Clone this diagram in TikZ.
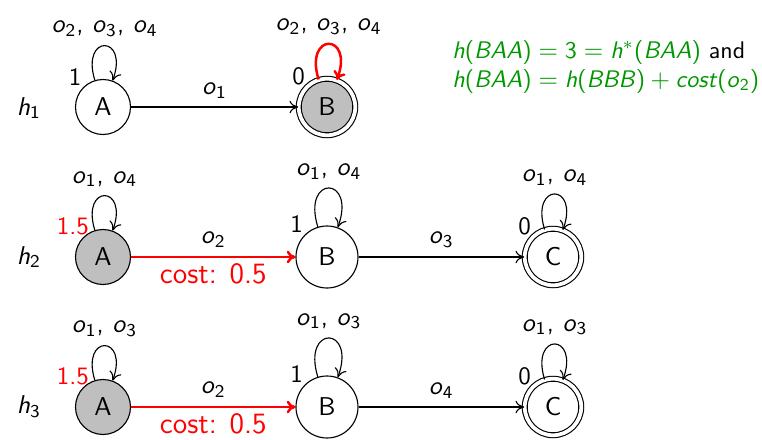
\documentclass[tikz,border=0pt]{standalone}
\usetikzlibrary{arrows.meta}
\definecolor{eqgreen}{RGB}{0,150,0}
\newcommand\mi[1]{\textit{#1}}
\newcommand\op[1]{\textit{o}\textsubscript{#1}}
\begin{document}
\begin{tikzpicture}[x=0.4pt,y=-0.4pt,font=\sffamily\fontsize{10.3}{12.4}\selectfont,
  state/.style={circle,draw,line width=0.45pt,inner sep=0pt},
  small/.style={state,minimum size=22pt},
  big/.style={state,minimum size=24.8pt},
  shaded/.style={fill=black!25},
  accept/.style={double,double distance=1.5pt,minimum size=22.6pt},
  tr/.style={-{To[length=3.5pt,width=5pt]},line width=0.45pt},
  hot/.style={red,line width=1pt},
  selfloop/.style={tr,out=107,in=70,looseness=7},
  wt/.style={inner sep=0.5pt,font=\sffamily\fontsize{10}{12}\selectfont},
  redwt/.style={wt,red,xshift=3pt},
  costlab/.style={below,red,font=\sffamily\fontsize{11.8}{14}\selectfont,inner sep=2pt},
  rowlab/.style={inner sep=0pt}]
\useasboundingbox (0,0) rectangle (762,440);

% row h1
\node[rowlab] (h1) at (29,108) {\mi{h}\textsubscript{1}};
\node[small,label={[wt]135:1}] (a1) at (103,107) {A};
\node[big,shaded,accept,label={[wt]135:0}] (b1) at (327,107) {B};
\draw[tr] (a1) -- node[above] {\op{1}} (b1);
\draw[selfloop] (a1) to node[above] {\op{2}, \op{3}, \op{4}} (a1);
\draw[selfloop,hot] (b1) to node[above,black] {\op{2}, \op{3}, \op{4}} (b1);

% explanation
\node[anchor=north west,align=left,inner sep=0pt,text=eqgreen,
      font=\sffamily\fontsize{9.6}{11.4}\selectfont] (note) at (452,40)
  {\mi{h}(\mi{BAA})${}={}$3${}={}$\mi{h}$^*$(\mi{BAA}) \textcolor{black}{and}\\
   \mi{h}(\mi{BAA})${}={}$\mi{h}(\mi{BBB})${}+{}$\mi{cost}(\mi{o}\textsubscript{2})};

% row h2
\node[rowlab] (h2) at (29,257) {\mi{h}\textsubscript{2}};
\node[small,shaded,label={[redwt]135:1.5}] (a2) at (103,257) {A};
\node[big,label={[wt]135:1}] (b2) at (327,257) {B};
\node[big,accept,label={[wt]135:0}] (c2) at (553,257) {C};
\draw[tr,hot] (a2) -- node[above,black] {\op{2}} node[costlab] {cost: 0.5} (b2);
\draw[tr] (b2) -- node[above] {\op{3}} (c2);
\draw[selfloop] (a2) to node[above] {\op{1}, \op{4}} (a2);
\draw[selfloop] (b2) to node[above] {\op{1}, \op{4}} (b2);
\draw[selfloop] (c2) to node[above] {\op{1}, \op{4}} (c2);

% row h3
\node[rowlab] (h3) at (29,407) {\mi{h}\textsubscript{3}};
\node[small,shaded,label={[redwt]135:1.5}] (a3) at (103,407) {A};
\node[big,label={[wt]135:1}] (b3) at (327,407) {B};
\node[big,accept,label={[wt]135:0}] (c3) at (553,407) {C};
\draw[tr,hot] (a3) -- node[above,black] {\op{2}} node[costlab] {cost: 0.5} (b3);
\draw[tr] (b3) -- node[above] {\op{4}} (c3);
\draw[selfloop] (a3) to node[above] {\op{1}, \op{3}} (a3);
\draw[selfloop] (b3) to node[above] {\op{1}, \op{3}} (b3);
\draw[selfloop] (c3) to node[above] {\op{1}, \op{3}} (c3);
\end{tikzpicture}
\end{document}
